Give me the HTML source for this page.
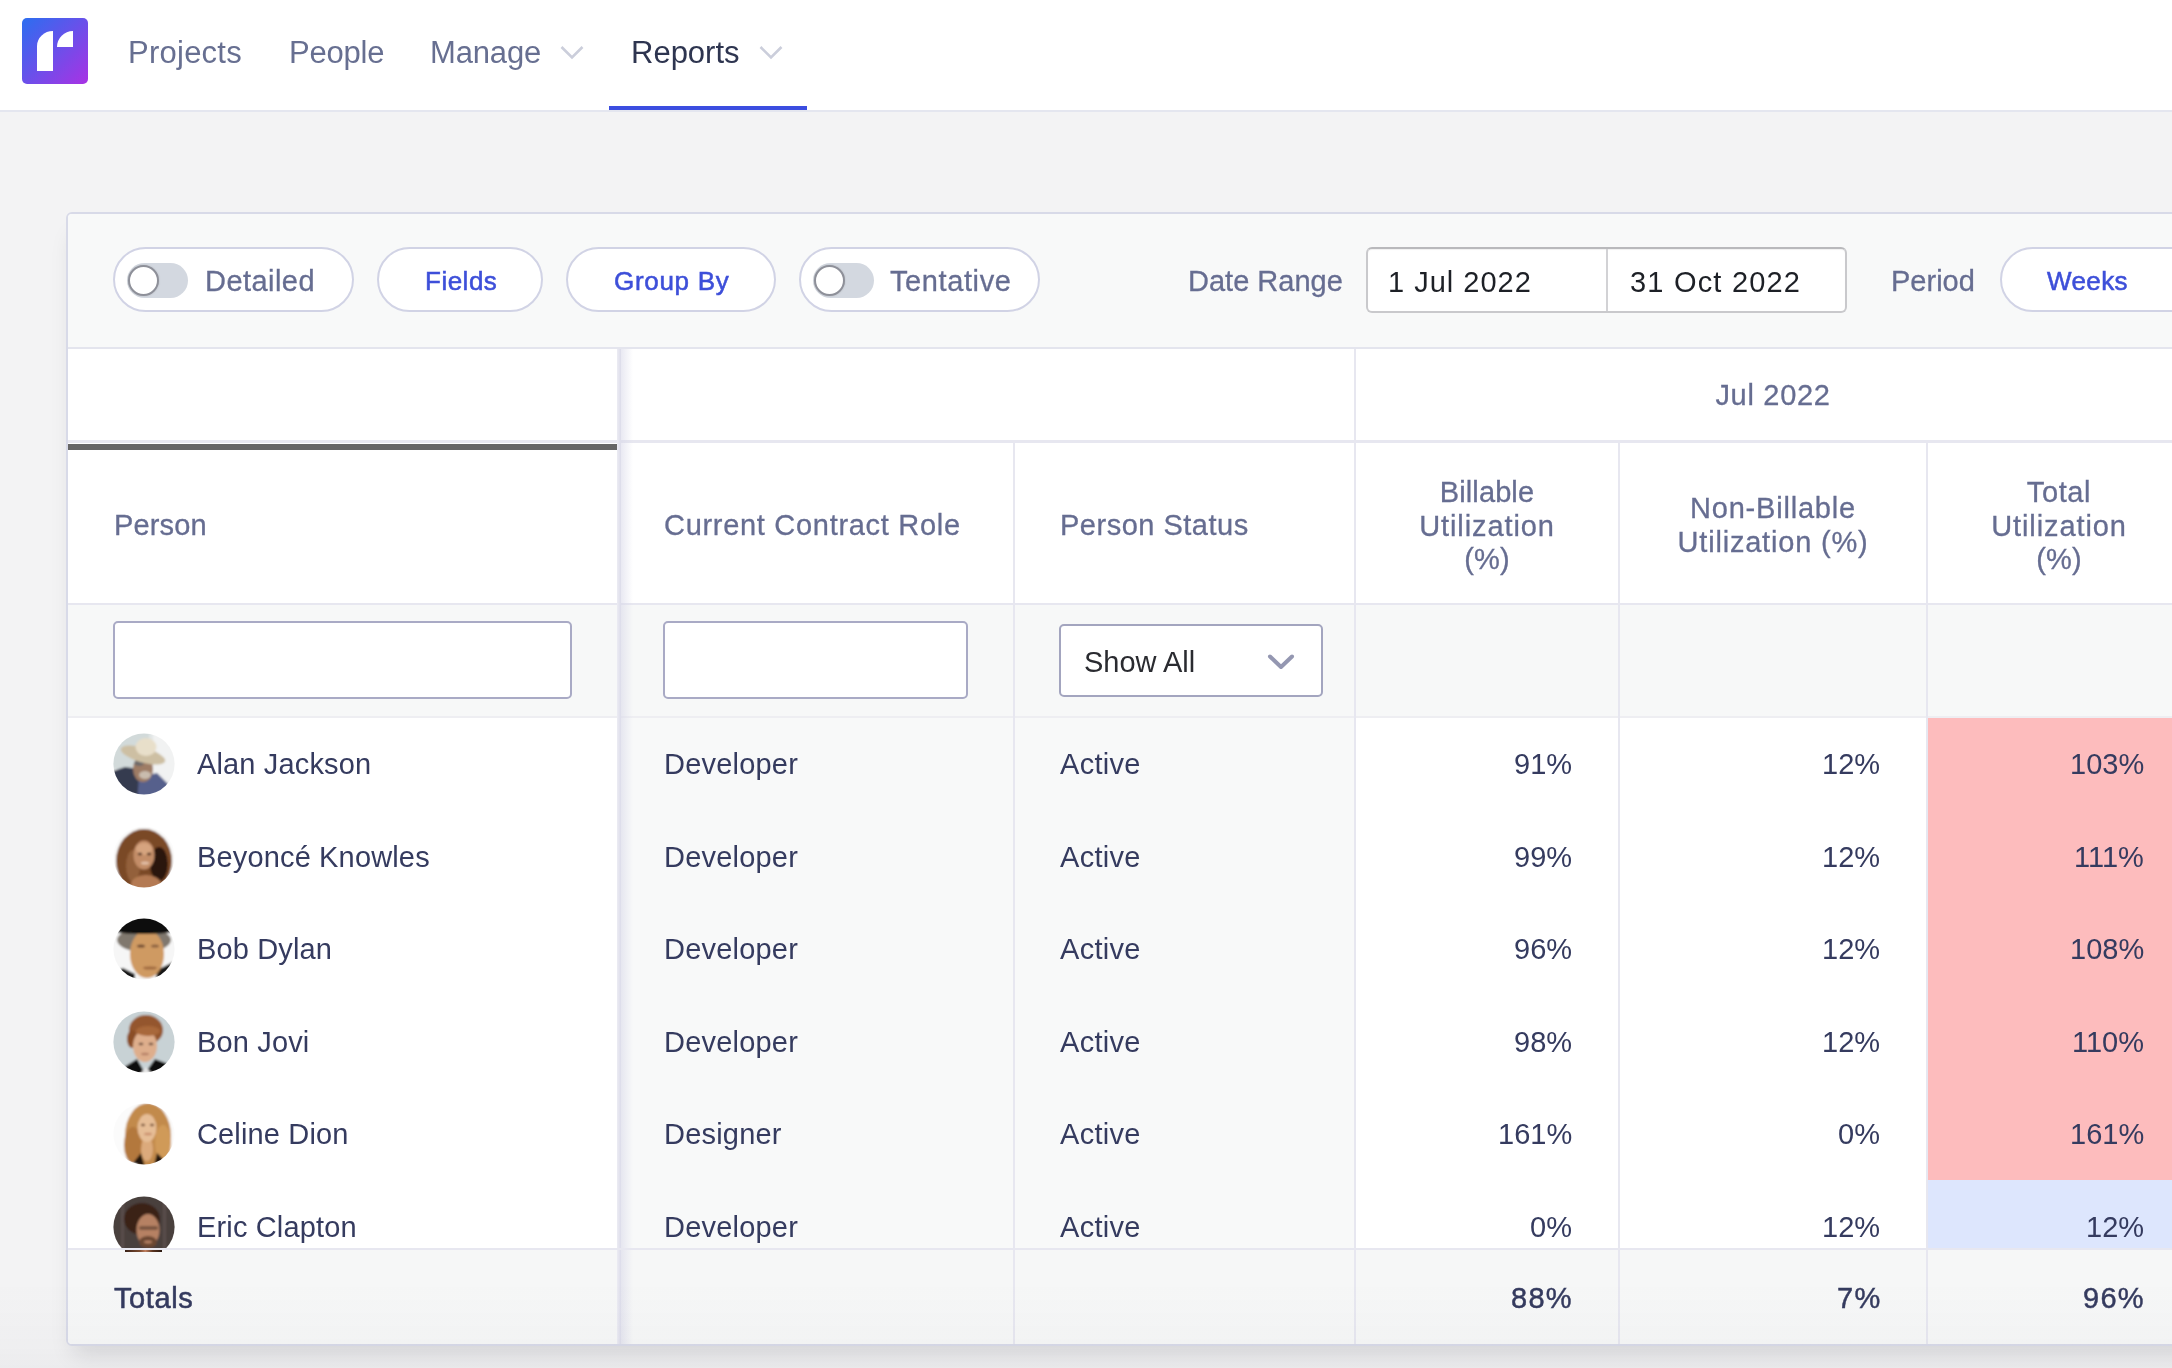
<!DOCTYPE html>
<html><head><meta charset="utf-8">
<style>
*{box-sizing:border-box;margin:0;padding:0}
html,body{width:2172px;height:1368px;overflow:hidden;background:#f3f3f4;font-family:"Liberation Sans",Arial,sans-serif;}
.abs{position:absolute}
.t{position:absolute;white-space:nowrap;line-height:40px;height:40px;will-change:transform}
.pill{position:absolute;height:65px;border:2px solid #d1d3e5;border-radius:33px;background:#fff}
.tog{position:absolute;width:61px;height:35px;border-radius:18px;background:#d3d8e0}
.tog i{position:absolute;left:1px;top:2px;width:31px;height:31px;border-radius:50%;background:#fff;border:2px solid #8e9099;box-shadow:0 0 2px rgba(0,0,0,.15)}
.av{position:absolute;width:61px;height:61px;border-radius:50%;overflow:hidden}
</style></head><body>
<div class="abs" style="left:0px;top:0px;width:2172px;height:110px;background:#fff;"></div>
<div class="abs" style="left:0px;top:110px;width:2172px;height:2px;background:#e4e6ef;"></div>
<svg class="abs" style="left:22px;top:18px" width="66" height="66" viewBox="0 0 66 66">
<defs><linearGradient id="lg" x1="0" y1="0" x2="1" y2="1"><stop offset="0" stop-color="#2b6ef0"/><stop offset="1" stop-color="#a932e4"/></linearGradient></defs>
<rect width="66" height="66" rx="5" fill="url(#lg)"/>
<path d="M15 53 L15 28 A16 15 0 0 1 31 13 L31 53 Z" fill="#fff"/>
<path d="M35 29 A16 16 0 0 1 51 13 L51 29 Z" fill="#fff"/>
</svg>
<div class="t " style="top:32.76px;font-size:31px;color:#676f91;left:128.0px;letter-spacing:0.25px;">Projects</div>
<div class="t " style="top:32.76px;font-size:31px;color:#676f91;left:289.0px;letter-spacing:-0.2px;">People</div>
<div class="t " style="top:32.76px;font-size:31px;color:#676f91;left:430.0px;letter-spacing:-0.15px;">Manage</div>
<div class="t " style="top:32.76px;font-size:31px;color:#2e3550;left:631.0px;">Reports</div>
<svg class="abs" style="left:558.5px;top:44px" width="26" height="17" viewBox="0 0 26 17"><path d="M2.5 3 L13 13.5 L23.5 3" fill="none" stroke="#cbcedb" stroke-width="2.6"/></svg>
<svg class="abs" style="left:757.5px;top:44px" width="26" height="17" viewBox="0 0 26 17"><path d="M2.5 3 L13 13.5 L23.5 3" fill="none" stroke="#cbcedb" stroke-width="2.6"/></svg>
<div class="abs" style="left:609px;top:106px;width:198px;height:4px;background:#3b4de0;"></div>
<div class="abs" style="left:66px;top:212px;width:2200px;height:1134px;background:#fff;border:2px solid #d8dae8;border-radius:6px;box-shadow:0 16px 22px -8px rgba(20,20,40,0.13)"></div>
<div class="abs" style="left:68px;top:214px;width:2104px;height:133px;background:#f8f9f9;border-top-left-radius:4px;"></div>
<div class="abs" style="left:68px;top:347px;width:2104px;height:2px;background:#e4e5ee;"></div>
<div class="pill" style="left:113px;top:247px;width:241px"></div>
<div class="tog" style="left:126.5px;top:263px"><i></i></div>
<div class="t " style="top:261.35px;font-size:29px;color:#666d91;left:205.0px;letter-spacing:0.45px;-webkit-text-stroke:0.3px #666d91;">Detailed</div>
<div class="pill" style="left:377px;top:247px;width:166px"></div>
<div class="t " style="top:261.19px;font-size:26px;color:#3d4fd9;left:425.0px;letter-spacing:0.5px;-webkit-text-stroke:0.55px #3d4fd9;">Fields</div>
<div class="pill" style="left:566px;top:247px;width:210px"></div>
<div class="t " style="top:261.19px;font-size:26px;color:#3d4fd9;left:614.0px;letter-spacing:0.7px;-webkit-text-stroke:0.55px #3d4fd9;">Group By</div>
<div class="pill" style="left:799px;top:247px;width:241px"></div>
<div class="tog" style="left:812.5px;top:263px"><i></i></div>
<div class="t " style="top:261.35px;font-size:29px;color:#666d91;left:890.0px;letter-spacing:0.6px;-webkit-text-stroke:0.3px #666d91;">Tentative</div>
<div class="t " style="top:261.35px;font-size:29px;color:#666d91;left:1188.0px;letter-spacing:0.0px;-webkit-text-stroke:0.3px #666d91;">Date Range</div>
<div class="abs" style="left:1366px;top:247px;width:481px;height:66px;border:2px solid #c9c9cc;border-top-color:#b9b9bc;border-radius:6px;background:#fff;box-shadow:inset 0 1px 1px rgba(0,0,0,0.06)"></div>
<div class="abs" style="left:1606px;top:249px;width:2px;height:62px;background:#d2d2d5;"></div>
<div class="t " style="top:261.65px;font-size:29px;color:#1d2026;left:1388.0px;letter-spacing:1.0px;">1 Jul 2022</div>
<div class="t " style="top:261.65px;font-size:29px;color:#1d2026;left:1630.0px;letter-spacing:1.2px;">31 Oct 2022</div>
<div class="t " style="top:261.35px;font-size:29px;color:#666d91;left:1891.0px;letter-spacing:0.0px;-webkit-text-stroke:0.3px #666d91;">Period</div>
<div class="pill" style="left:2000px;top:247px;width:300px"></div>
<div class="t " style="top:261.19px;font-size:26px;color:#3d4fd9;left:2047.0px;letter-spacing:0.4px;-webkit-text-stroke:0.55px #3d4fd9;">Weeks</div>
<div class="abs" style="left:68px;top:440px;width:2104px;height:3px;background:#e7e7f0;"></div>
<div class="abs" style="left:68px;top:444px;width:549px;height:6px;background:#666;"></div>
<div class="abs" style="left:68px;top:603px;width:2104px;height:2px;background:#e7e7f0;"></div>
<div class="abs" style="left:68px;top:605px;width:2104px;height:111px;background:#f7f8f8;"></div>
<div class="abs" style="left:68px;top:716px;width:2104px;height:2px;background:#eeeef2;"></div>
<div class="abs" style="left:621px;top:718px;width:733px;height:530px;background:#f8f9f9;"></div>
<div class="abs" style="left:1928px;top:718px;width:244px;height:462px;background:#fdbcbd;"></div>
<div class="abs" style="left:1928px;top:1180px;width:244px;height:69px;background:#dde6fd;"></div>
<div class="abs" style="left:1354px;top:349px;width:2px;height:995px;background:#e7e7f0;"></div>
<div class="abs" style="left:1013px;top:443px;width:2px;height:901px;background:#e7e7f0;"></div>
<div class="abs" style="left:1618px;top:443px;width:2px;height:901px;background:#e7e7f0;"></div>
<div class="abs" style="left:1926px;top:443px;width:2px;height:901px;background:#e7e7f0;"></div>
<div class="abs" style="left:617px;top:349px;width:4px;height:995px;background:linear-gradient(90deg,#ececf3,#dcdcea);"></div>
<div class="abs" style="left:621px;top:349px;width:12px;height:995px;background:linear-gradient(90deg,rgba(215,215,232,0.55),rgba(215,215,232,0));"></div>
<div class="t " style="top:375.15px;font-size:29px;color:#666d91;left:1472.5px;width:600px;text-align:center;letter-spacing:0.7px;-webkit-text-stroke:0.3px #666d91;">Jul 2022</div>
<div class="t " style="top:505.15px;font-size:29px;color:#666d91;left:113.5px;letter-spacing:0.15px;-webkit-text-stroke:0.3px #666d91;">Person</div>
<div class="t " style="top:505.15px;font-size:29px;color:#666d91;left:663.5px;letter-spacing:0.7px;-webkit-text-stroke:0.3px #666d91;">Current Contract Role</div>
<div class="t " style="top:505.15px;font-size:29px;color:#666d91;left:1059.5px;letter-spacing:0.5px;-webkit-text-stroke:0.3px #666d91;">Person Status</div>
<div class="t " style="top:471.85px;font-size:29px;color:#666d91;left:1187.0px;width:600px;text-align:center;letter-spacing:0.1px;-webkit-text-stroke:0.3px #666d91;">Billable</div>
<div class="t " style="top:505.55px;font-size:29px;color:#666d91;left:1187.0px;width:600px;text-align:center;letter-spacing:0.9px;-webkit-text-stroke:0.3px #666d91;">Utilization</div>
<div class="t " style="top:539.25px;font-size:29px;color:#666d91;left:1187.0px;width:600px;text-align:center;letter-spacing:0.2px;-webkit-text-stroke:0.3px #666d91;">(%)</div>
<div class="t " style="top:488.15px;font-size:29px;color:#666d91;left:1473.0px;width:600px;text-align:center;letter-spacing:0.8px;-webkit-text-stroke:0.3px #666d91;">Non-Billable</div>
<div class="t " style="top:521.85px;font-size:29px;color:#666d91;left:1473.0px;width:600px;text-align:center;letter-spacing:0.8px;-webkit-text-stroke:0.3px #666d91;">Utilization (%)</div>
<div class="t " style="top:471.85px;font-size:29px;color:#666d91;left:1759.0px;width:600px;text-align:center;letter-spacing:0.6px;-webkit-text-stroke:0.3px #666d91;">Total</div>
<div class="t " style="top:505.55px;font-size:29px;color:#666d91;left:1759.0px;width:600px;text-align:center;letter-spacing:0.9px;-webkit-text-stroke:0.3px #666d91;">Utilization</div>
<div class="t " style="top:539.25px;font-size:29px;color:#666d91;left:1759.0px;width:600px;text-align:center;letter-spacing:0.2px;-webkit-text-stroke:0.3px #666d91;">(%)</div>
<div class="abs" style="left:113px;top:621px;width:459px;height:78px;border:2px solid #a9aac5;border-radius:5px;background:#fff"></div>
<div class="abs" style="left:663px;top:621px;width:305px;height:78px;border:2px solid #a9aac5;border-radius:5px;background:#fff"></div>
<div class="abs" style="left:1059px;top:624px;width:264px;height:73px;border:2px solid #a3a5bf;border-radius:5px;background:#fff"></div>
<div class="t " style="top:642.35px;font-size:29px;color:#2a2b30;left:1084.0px;letter-spacing:0.0px;">Show All</div>
<svg class="abs" style="left:1266px;top:652px" width="30" height="20" viewBox="0 0 30 20"><path d="M4 4.5 L15 15 L26 4.5" fill="none" stroke="#9497b1" stroke-width="4" stroke-linecap="round" stroke-linejoin="round"/></svg>
<div class="t " style="top:744.15px;font-size:29px;color:#353b5f;left:197.0px;letter-spacing:0.15px;">Alan Jackson</div>
<div class="t " style="top:744.15px;font-size:29px;color:#353b5f;left:663.5px;letter-spacing:0.2px;">Developer</div>
<div class="t " style="top:744.15px;font-size:29px;color:#353b5f;left:1059.5px;letter-spacing:0.3px;">Active</div>
<div class="t " style="top:744.15px;font-size:29px;color:#353b5f;right:600.0px;">91%</div>
<div class="t " style="top:744.15px;font-size:29px;color:#353b5f;right:292.0px;">12%</div>
<div class="t " style="top:744.15px;font-size:29px;color:#353b5f;right:28.0px;">103%</div>
<svg class="abs" style="left:113px;top:733.0px" width="62" height="62" viewBox="0 0 62 62"><defs><clipPath id="cA"><circle cx="31" cy="31" r="30.6"/></clipPath><filter id="fA" x="-10%" y="-10%" width="120%" height="120%"><feGaussianBlur stdDeviation="0.9"/></filter></defs><g clip-path="url(#cA)"><g filter="url(#fA)"><rect x="-6" y="-6" width="74" height="74" fill="#f1f2f2"/><rect x="-6" y="-6" width="46" height="42" fill="#d2dada"/>
<rect x="36" y="0" width="4" height="50" fill="#e2e6e6"/>
<path d="M-6 40 L12 34 L26 36 L30 62 L-6 70 Z" fill="#353b4f"/>
<path d="M26 44 L44 40 L56 52 L50 70 L24 70 Z" fill="#56608c"/>
<ellipse cx="30" cy="36" rx="10" ry="13" fill="#9e7b65"/><ellipse cx="32" cy="42" rx="6" ry="4" fill="#c9bcae"/>
<ellipse cx="26" cy="30" rx="5" ry="3" fill="#6e6a6a"/>
<ellipse cx="30" cy="22" rx="23" ry="7.5" transform="rotate(16 30 22)" fill="#cdbfa3"/><ellipse cx="33" cy="14" rx="10.5" ry="9" fill="#e8dfca"/></g></g></svg>
<div class="t " style="top:836.65px;font-size:29px;color:#353b5f;left:197.0px;letter-spacing:0.15px;">Beyoncé Knowles</div>
<div class="t " style="top:836.65px;font-size:29px;color:#353b5f;left:663.5px;letter-spacing:0.2px;">Developer</div>
<div class="t " style="top:836.65px;font-size:29px;color:#353b5f;left:1059.5px;letter-spacing:0.3px;">Active</div>
<div class="t " style="top:836.65px;font-size:29px;color:#353b5f;right:600.0px;">99%</div>
<div class="t " style="top:836.65px;font-size:29px;color:#353b5f;right:292.0px;">12%</div>
<div class="t " style="top:836.65px;font-size:29px;color:#353b5f;right:28.0px;">111%</div>
<svg class="abs" style="left:113px;top:825.5px" width="62" height="62" viewBox="0 0 62 62"><defs><clipPath id="cB"><circle cx="31" cy="31" r="30.6"/></clipPath><filter id="fB" x="-10%" y="-10%" width="120%" height="120%"><feGaussianBlur stdDeviation="0.9"/></filter></defs><g clip-path="url(#cB)"><g filter="url(#fB)"><rect x="-6" y="-6" width="74" height="74" fill="#fbfbfb"/><ellipse cx="31" cy="35" rx="28" ry="32" fill="#7a4828"/>
<ellipse cx="46" cy="38" rx="9" ry="17" fill="#2b1309"/><ellipse cx="20" cy="40" rx="7" ry="16" fill="#93603a"/>
<ellipse cx="33" cy="58" rx="15" ry="9" fill="#b47a52"/>
<ellipse cx="31" cy="29" rx="10.5" ry="14.5" fill="#c38d68"/><ellipse cx="31" cy="23" rx="8" ry="6" fill="#d6a47f"/>
<ellipse cx="27" cy="28" rx="2.2" ry="1.3" fill="#4a2a1a"/><ellipse cx="36" cy="28" rx="2.2" ry="1.3" fill="#4a2a1a"/>
<ellipse cx="32" cy="37" rx="4" ry="1.5" fill="#e3c0a8"/></g></g></svg>
<div class="t " style="top:929.15px;font-size:29px;color:#353b5f;left:197.0px;letter-spacing:0.15px;">Bob Dylan</div>
<div class="t " style="top:929.15px;font-size:29px;color:#353b5f;left:663.5px;letter-spacing:0.2px;">Developer</div>
<div class="t " style="top:929.15px;font-size:29px;color:#353b5f;left:1059.5px;letter-spacing:0.3px;">Active</div>
<div class="t " style="top:929.15px;font-size:29px;color:#353b5f;right:600.0px;">96%</div>
<div class="t " style="top:929.15px;font-size:29px;color:#353b5f;right:292.0px;">12%</div>
<div class="t " style="top:929.15px;font-size:29px;color:#353b5f;right:28.0px;">108%</div>
<svg class="abs" style="left:113px;top:918.0px" width="62" height="62" viewBox="0 0 62 62"><defs><clipPath id="cC"><circle cx="31" cy="31" r="30.6"/></clipPath><filter id="fC" x="-10%" y="-10%" width="120%" height="120%"><feGaussianBlur stdDeviation="0.9"/></filter></defs><g clip-path="url(#cC)"><g filter="url(#fC)"><rect x="-6" y="-6" width="74" height="74" fill="#f6f6f6"/><path d="M-6 56 L10 50 L22 56 L22 70 L-6 70 Z" fill="#151515"/>
<path d="M44 52 L60 44 L68 50 L68 70 L42 70 Z" fill="#151515"/>
<ellipse cx="31" cy="22" rx="27" ry="12" fill="#80786e"/><ellipse cx="34" cy="36" rx="17" ry="24" fill="#cf9a62"/>
<ellipse cx="28" cy="28" rx="4" ry="1.6" fill="#6e4a30"/><ellipse cx="42" cy="28" rx="4" ry="1.6" fill="#8a6040"/>
<ellipse cx="37" cy="50" rx="7" ry="1.6" fill="#a06a40"/>
<path d="M-6 -6 L68 -6 L68 13 Q31 19 -6 13 Z" fill="#0d0a09"/></g></g></svg>
<div class="t " style="top:1021.65px;font-size:29px;color:#353b5f;left:197.0px;letter-spacing:0.15px;">Bon Jovi</div>
<div class="t " style="top:1021.65px;font-size:29px;color:#353b5f;left:663.5px;letter-spacing:0.2px;">Developer</div>
<div class="t " style="top:1021.65px;font-size:29px;color:#353b5f;left:1059.5px;letter-spacing:0.3px;">Active</div>
<div class="t " style="top:1021.65px;font-size:29px;color:#353b5f;right:600.0px;">98%</div>
<div class="t " style="top:1021.65px;font-size:29px;color:#353b5f;right:292.0px;">12%</div>
<div class="t " style="top:1021.65px;font-size:29px;color:#353b5f;right:28.0px;">110%</div>
<svg class="abs" style="left:113px;top:1010.5px" width="62" height="62" viewBox="0 0 62 62"><defs><clipPath id="cD"><circle cx="31" cy="31" r="30.6"/></clipPath><filter id="fD" x="-10%" y="-10%" width="120%" height="120%"><feGaussianBlur stdDeviation="0.9"/></filter></defs><g clip-path="url(#cD)"><g filter="url(#fD)"><rect x="-6" y="-6" width="74" height="74" fill="#c8d2d5"/><path d="M8 58 L24 48 L32 62 L42 48 L58 54 L58 70 L8 70 Z" fill="#110c0b"/>
<path d="M28 62 L33 56 L38 62 L36 70 L30 70 Z" fill="#e6e6e6"/>
<ellipse cx="33" cy="19" rx="17" ry="15" fill="#94562d"/><ellipse cx="19" cy="28" rx="5" ry="9" fill="#8a4e28"/>
<ellipse cx="32" cy="35" rx="12" ry="16" fill="#deae8c"/><ellipse cx="35" cy="20" rx="12" ry="5" fill="#a8673a"/>
<ellipse cx="28" cy="33" rx="2.4" ry="1.2" fill="#6a4a3a"/><ellipse cx="38" cy="33" rx="2.4" ry="1.2" fill="#6a4a3a"/>
<ellipse cx="32" cy="43" rx="4" ry="1.3" fill="#b57f65"/></g></g></svg>
<div class="t " style="top:1114.15px;font-size:29px;color:#353b5f;left:197.0px;letter-spacing:0.15px;">Celine Dion</div>
<div class="t " style="top:1114.15px;font-size:29px;color:#353b5f;left:663.5px;letter-spacing:0.2px;">Designer</div>
<div class="t " style="top:1114.15px;font-size:29px;color:#353b5f;left:1059.5px;letter-spacing:0.3px;">Active</div>
<div class="t " style="top:1114.15px;font-size:29px;color:#353b5f;right:600.0px;">161%</div>
<div class="t " style="top:1114.15px;font-size:29px;color:#353b5f;right:292.0px;">0%</div>
<div class="t " style="top:1114.15px;font-size:29px;color:#353b5f;right:28.0px;">161%</div>
<svg class="abs" style="left:113px;top:1103.0px" width="62" height="62" viewBox="0 0 62 62"><defs><clipPath id="cE"><circle cx="31" cy="31" r="30.6"/></clipPath><filter id="fE" x="-10%" y="-10%" width="120%" height="120%"><feGaussianBlur stdDeviation="0.9"/></filter></defs><g clip-path="url(#cE)"><g filter="url(#fE)"><rect x="-6" y="-6" width="74" height="74" fill="#fbfbfb"/><ellipse cx="35" cy="33" rx="23" ry="33" fill="#c28a4c"/>
<ellipse cx="20" cy="42" rx="9" ry="18" fill="#b3783e"/><ellipse cx="50" cy="40" rx="8" ry="18" fill="#d09a58"/>
<path d="M20 60 L28 50 L32 64 Z" fill="#20140e"/><path d="M44 50 L52 58 L40 66 Z" fill="#20140e"/>
<ellipse cx="34" cy="46" rx="6" ry="12" fill="#dcaa7c"/>
<ellipse cx="34" cy="25" rx="9.5" ry="14" fill="#e6bd96"/><ellipse cx="30" cy="22" rx="2.2" ry="1.2" fill="#7a5238"/><ellipse cx="39" cy="22" rx="2.2" ry="1.2" fill="#7a5238"/>
<ellipse cx="35" cy="31" rx="4" ry="1.3" fill="#c98f6c"/></g></g></svg>
<div class="t " style="top:1206.65px;font-size:29px;color:#353b5f;left:197.0px;letter-spacing:0.15px;">Eric Clapton</div>
<div class="t " style="top:1206.65px;font-size:29px;color:#353b5f;left:663.5px;letter-spacing:0.2px;">Developer</div>
<div class="t " style="top:1206.65px;font-size:29px;color:#353b5f;left:1059.5px;letter-spacing:0.3px;">Active</div>
<div class="t " style="top:1206.65px;font-size:29px;color:#353b5f;right:600.0px;">0%</div>
<div class="t " style="top:1206.65px;font-size:29px;color:#353b5f;right:292.0px;">12%</div>
<div class="t " style="top:1206.65px;font-size:29px;color:#353b5f;right:28.0px;">12%</div>
<svg class="abs" style="left:113px;top:1195.5px" width="62" height="62" viewBox="0 0 62 62"><defs><clipPath id="cF"><circle cx="31" cy="31" r="30.6"/></clipPath><filter id="fF" x="-10%" y="-10%" width="120%" height="120%"><feGaussianBlur stdDeviation="0.9"/></filter></defs><g clip-path="url(#cF)"><g filter="url(#fF)"><rect x="-6" y="-6" width="74" height="74" fill="#4a3f3e"/>
<rect x="8" y="-6" width="3" height="74" fill="#5a4e4c"/><rect x="50" y="-6" width="3" height="74" fill="#5a4e4c"/>
<ellipse cx="31" cy="64" rx="26" ry="10" fill="#2a1c16"/>
<ellipse cx="29" cy="23" rx="18" ry="16" fill="#3a2318"/><ellipse cx="35" cy="34" rx="11.5" ry="16" fill="#b68163"/>
<rect x="26" y="30" width="19" height="4" rx="2" fill="#7a5540"/>
<ellipse cx="35" cy="46" rx="9" ry="6" fill="#6b4632"/><ellipse cx="35" cy="46" rx="4" ry="1.4" fill="#b68163"/></g></g></svg>
<div class="abs" style="left:68px;top:1248px;width:2104px;height:2px;background:#e7e7f0;"></div>
<div class="abs" style="left:68px;top:1250px;width:2104px;height:94px;background:#f6f7f7;border-bottom-left-radius:4px;"></div>
<div class="abs" style="left:125px;top:1250px;width:37px;height:1.5px;background:linear-gradient(90deg,#3a2218,#7a4a30 40%,#c08060 55%,#5a3420 75%,#2a1810);"></div>
<div class="abs" style="left:1354px;top:1250px;width:2px;height:94px;background:#e7e7f0;"></div>
<div class="abs" style="left:1013px;top:1250px;width:2px;height:94px;background:#e7e7f0;"></div>
<div class="abs" style="left:1618px;top:1250px;width:2px;height:94px;background:#e7e7f0;"></div>
<div class="abs" style="left:1926px;top:1250px;width:2px;height:94px;background:#e7e7f0;"></div>
<div class="abs" style="left:617px;top:1250px;width:4px;height:94px;background:linear-gradient(90deg,#ececf3,#dcdcea);"></div>
<div class="abs" style="left:621px;top:1250px;width:12px;height:94px;background:linear-gradient(90deg,rgba(215,215,232,0.55),rgba(215,215,232,0));"></div>
<div class="t " style="top:1278.45px;font-size:29px;color:#353b5f;left:113.5px;letter-spacing:0.6px;-webkit-text-stroke:0.55px #353b5f;">Totals</div>
<div class="t " style="top:1278.15px;font-size:29px;color:#353b5f;right:600.0px;letter-spacing:1.3px;-webkit-text-stroke:0.45px #353b5f;margin-right:-1.3px;">88%</div>
<div class="t " style="top:1278.15px;font-size:29px;color:#353b5f;right:292.0px;letter-spacing:1.3px;-webkit-text-stroke:0.45px #353b5f;margin-right:-1.3px;">7%</div>
<div class="t " style="top:1278.15px;font-size:29px;color:#353b5f;right:28.0px;letter-spacing:1.3px;-webkit-text-stroke:0.45px #353b5f;margin-right:-1.3px;">96%</div>
<div class="abs" style="left:0;top:1280px;width:2172px;height:88px;background:linear-gradient(180deg,rgba(50,50,70,0),rgba(50,50,70,0.02) 75%,rgba(50,50,70,0.035))"></div>
</body></html>
